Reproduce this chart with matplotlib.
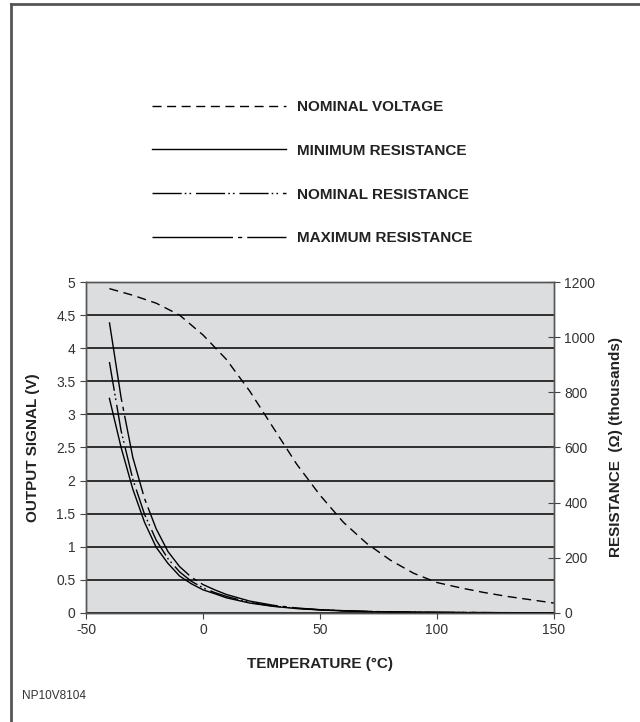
"""Thermistor output signal / resistance vs temperature chart."""

import matplotlib
matplotlib.use("Agg")
import matplotlib.pyplot as plt
from matplotlib.lines import Line2D

plt.rcParams["font.family"] = ["Liberation Sans", "DejaVu Sans"]
plt.rcParams["axes.unicode_minus"] = False

# nominal voltage (V), left axis
volt_temp = [-40, -30, -20, -10, 0, 10, 20, 30, 40, 50, 60, 70, 80, 90, 100,
             110, 120, 130, 140, 150]
volt_nominal = [4.9, 4.8, 4.68, 4.5, 4.2, 3.83, 3.35, 2.8, 2.25, 1.78, 1.37,
                1.05, 0.8, 0.6, 0.46, 0.38, 0.31, 0.25, 0.2, 0.15]

# resistance (thousands of ohms), right axis
res_temp = [-40, -35, -30, -25, -20, -15, -10, -5, 0, 5, 10, 20, 30, 40, 50,
            60, 70, 80, 100, 125, 150]
res_min = [778, 600, 449, 329, 238, 180, 134, 106, 84, 70, 55, 36, 24, 16, 11,
           7.4, 5, 3.6, 1.9, 1, 0.5]
res_nominal = [910, 660, 485, 358, 264, 197, 149, 115, 91, 74, 60, 38, 25, 17,
               11.5, 8, 5.5, 3.8, 2.2, 1.2, 0.7]
res_max = [1054, 780, 564, 415, 305, 223, 168, 130, 103, 84, 67, 43, 28, 18,
           12, 8.4, 5.8, 4.1, 2.4, 1.2, 0.7]

labels = ["NOMINAL VOLTAGE", "MINIMUM RESISTANCE", "NOMINAL RESISTANCE",
          "MAXIMUM RESISTANCE"]
x_ticks = [-50, 0, 50, 100, 150]
v_ticks = [0, 0.5, 1, 1.5, 2, 2.5, 3, 3.5, 4, 4.5, 5]
r_ticks = [0, 200, 400, 600, 800, 1000, 1200]


def main() -> None:
    fig = plt.figure(figsize=(6.4, 7.22), dpi=100)
    ax = fig.add_axes([0.1344, 0.151, 0.7312, 0.4584])
    ax.set_facecolor("#dcdddf")
    ax2 = ax.twinx()

    lw = 1.0
    h_v, = ax.plot(volt_temp, volt_nominal, color="black", lw=lw,
                   linestyle=(0, (6.5, 4)))
    h_min, = ax2.plot(res_temp, res_min, color="black", lw=lw)
    h_nom, = ax2.plot(res_temp, res_nominal, color="black", lw=lw,
                      linestyle=(0, (21, 2.2, 1.2, 2.2, 1.2, 3.5)))
    h_max, = ax2.plot(res_temp, res_max, color="black", lw=lw,
                      linestyle=(0, (58, 3.6, 3, 3.6)))

    ax.set_xlim(-50, 150)
    ax.set_ylim(0, 5)
    ax2.set_ylim(0, 1200)
    ax.set_xticks(x_ticks)
    ax.set_yticks(v_ticks)
    ax.set_yticklabels([f"{v:g}" for v in v_ticks])
    ax2.set_yticks(r_ticks)

    ax.yaxis.grid(True, color="black", lw=1.1)
    ax.set_axisbelow(True)
    for a in (ax, ax2):
        for s in a.spines.values():
            s.set_color("#555555")
            s.set_linewidth(1.0)
    ax.spines["bottom"].set_color("#222222")

    ax.tick_params(axis="both", labelsize=10, labelcolor="#333333",
                   color="#444444", length=4, width=0.8)
    ax2.tick_params(axis="y", labelsize=10, labelcolor="#333333",
                    color="#444444", direction="inout", length=8, width=0.8)

    bold = dict(fontsize=11, fontweight="bold", color="#222222")
    ax.set_xlabel("TEMPERATURE (°C)", labelpad=14, **bold)
    ax.set_ylabel("OUTPUT SIGNAL (V)", labelpad=12, **bold)
    ax2.set_ylabel("RESISTANCE  (Ω) (thousands)", labelpad=10, **bold)

    fig.legend([h_v, h_min, h_nom, h_max], labels, loc="upper left",
               bbox_to_anchor=(0.2156, 0.8805), frameon=False,
               handlelength=8.8, handletextpad=0.7, labelspacing=1.95,
               prop=dict(size=11, weight="bold"), labelcolor="#222222")

    fig.text(0.034, 0.032, "NP10V8104", fontsize=8.5, color="#333333")

    # outer frame: left and top edge only
    fig.add_artist(Line2D([0.0172, 0.0172], [0, 0.9945], color="#555555",
                          lw=2, transform=fig.transFigure))
    fig.add_artist(Line2D([0.0172, 1], [0.9945, 0.9945], color="#555555",
                          lw=2, transform=fig.transFigure))

    fig.savefig("out.png", dpi=100)
    plt.close(fig)


if __name__ == "__main__":
    main()
